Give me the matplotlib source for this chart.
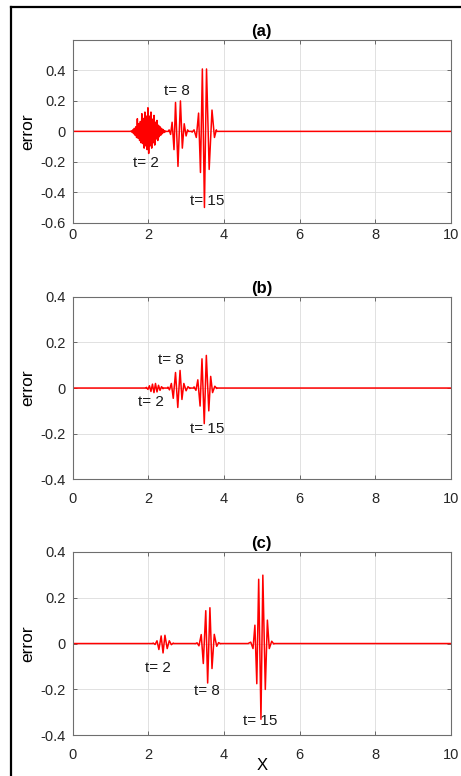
import numpy as np
import matplotlib.pyplot as plt
from matplotlib.lines import Line2D

# Error wave packets, extrema read per packet (x, error)
# panel (a)
a_t2_x = [1.55, 1.57, 1.59, 1.61, 1.63, 1.65, 1.67, 1.69, 1.71, 1.73, 1.75, 1.77,
          1.79, 1.81, 1.83, 1.85, 1.87, 1.89, 1.91, 1.93, 1.95, 1.97, 1.99, 2.01,
          2.03, 2.05, 2.07, 2.09, 2.11, 2.13, 2.15, 2.17, 2.19, 2.21, 2.23, 2.25,
          2.27, 2.29, 2.31, 2.33, 2.35, 2.37, 2.39, 2.41, 2.43, 2.45]
a_t2_y = [0.003, -0.006, 0.01, -0.015, 0.02, -0.025, 0.03, -0.04, 0.083, -0.045, 0.05, -0.06,
          0.065, -0.075, 0.116, -0.08, 0.085, -0.11, 0.127, -0.095, 0.10, -0.12, 0.155, -0.145,
          0.10, -0.095, 0.127, -0.11, 0.08, -0.075, 0.105, -0.09, 0.06, -0.05, 0.072, -0.06,
          0.04, -0.035, 0.03, -0.025, 0.02, -0.015, 0.012, -0.008, 0.005, -0.003]
a_t8_x = [2.55, 2.59, 2.63, 2.68, 2.72, 2.785, 2.85, 2.90, 2.95, 3.00, 3.04]
a_t8_y = [0.01, -0.02, 0.06, -0.12, 0.19, -0.23, 0.20, -0.11, 0.05, -0.03, 0.01]
a_t15_x = [3.16, 3.21, 3.27, 3.33, 3.38, 3.43, 3.485, 3.54, 3.61, 3.685, 3.75, 3.80]
a_t15_y = [-0.005, 0.01, -0.04, 0.12, -0.27, 0.41, -0.50, 0.41, -0.25, 0.14, -0.04, 0.01]

# panel (b)
b_t2_x = [1.95, 1.99, 2.03, 2.07, 2.11, 2.15, 2.19, 2.23, 2.27, 2.31, 2.35, 2.39]
b_t2_y = [0.003, -0.006, 0.01, -0.015, 0.017, -0.02, 0.02, -0.017, 0.012, -0.01, 0.006, -0.003]
b_t8_x = [2.52, 2.56, 2.61, 2.66, 2.72, 2.78, 2.84, 2.89, 2.94, 3.00, 3.05, 3.10]
b_t8_y = [0.004, -0.008, 0.02, -0.045, 0.068, -0.085, 0.077, -0.05, 0.02, -0.012, 0.006, -0.002]
b_t15_x = [3.21, 3.26, 3.31, 3.37, 3.42, 3.48, 3.535, 3.60, 3.65, 3.70, 3.76, 3.81]
b_t15_y = [0.005, -0.01, 0.036, -0.079, 0.128, -0.156, 0.143, -0.10, 0.051, -0.02, 0.008, -0.002]

# panel (c)
c_t2_x = [2.13, 2.18, 2.23, 2.28, 2.34, 2.39, 2.44, 2.50, 2.555, 2.61, 2.66]
c_t2_y = [0.002, -0.004, 0.012, -0.026, 0.033, -0.041, 0.036, -0.022, 0.012, -0.005, 0.002]
c_t8_x = [3.24, 3.29, 3.34, 3.40, 3.455, 3.52, 3.57, 3.63, 3.685, 3.745, 3.81, 3.86, 3.91]
c_t8_y = [-0.001, 0.003, -0.01, 0.039, -0.087, 0.143, -0.172, 0.156, -0.109, 0.04, -0.012, 0.004, -0.001]
c_t15_x = [4.66, 4.71, 4.77, 4.82, 4.87, 4.92, 4.98, 5.03, 5.095, 5.15, 5.20, 5.265, 5.32]
c_t15_y = [0.002, 0.006, -0.022, 0.08, -0.175, 0.28, -0.33, 0.298, -0.2, 0.102, -0.022, 0.01, -0.002]

panel_titles = ['(a)', '(b)', '(c)']
time_labels = ['t= 2', 't= 8', 't= 15']
label_pos = [
    [(1.94, -0.21), (2.75, 0.264), (3.56, -0.46)],
    [(2.06, -0.061), (2.60, 0.121), (3.56, -0.181)],
    [(2.26, -0.105), (3.54, -0.208), (4.95, -0.339)],
]
packets = [
    [(a_t2_x, a_t2_y), (a_t8_x, a_t8_y), (a_t15_x, a_t15_y)],
    [(b_t2_x, b_t2_y), (b_t8_x, b_t8_y), (b_t15_x, b_t15_y)],
    [(c_t2_x, c_t2_y), (c_t8_x, c_t8_y), (c_t15_x, c_t15_y)],
]
ylims = [(-0.6, 0.6), (-0.4, 0.4), (-0.4, 0.4)]
yticks = [[-0.6, -0.4, -0.2, 0, 0.2, 0.4], [-0.4, -0.2, 0, 0.2, 0.4], [-0.4, -0.2, 0, 0.2, 0.4]]
xticks = [0, 2, 4, 6, 8, 10]
xtick_pad = [4, 9, 9]

# axes boxes [left, bottom, width, height] in figure fraction
boxes = [[0.1577, 0.713, 0.82, 0.2354],
         [0.1577, 0.3823, 0.82, 0.2353],
         [0.1577, 0.0524, 0.82, 0.2366]]

fig = plt.figure(figsize=(4.61, 7.76), dpi=100)
plt.rcParams['font.family'] = ['Liberation Sans', 'DejaVu Sans']

for i in range(3):
    ax = fig.add_axes(boxes[i])
    # one curve along the whole domain: zero outside the packets
    xs = [0.0]
    ys = [0.0]
    for px, py in packets[i]:
        xs += [px[0] - 0.01] + list(px) + [px[-1] + 0.01]
        ys += [0.0] + list(py) + [0.0]
    xs.append(10.0)
    ys.append(0.0)
    ax.plot(xs, ys, color='#ff0000', lw=1.1)

    for lab, (tx, ty) in zip(time_labels, label_pos[i]):
        ax.text(tx, ty, lab, ha='center', va='center', fontsize=11, color='#1a1a1a')

    ax.set_xlim(0, 10)
    ax.set_ylim(*ylims[i])
    ax.set_xticks(xticks)
    ax.set_yticks(yticks[i])
    ax.set_yticklabels(['0' if v == 0 else f'{v:g}' for v in yticks[i]])
    ax.grid(True, color='#dcdcdc', lw=0.6)
    ax.set_axisbelow(True)
    ax.tick_params(direction='in', length=3, width=0.6, labelsize=10.5, pad=5,
                   colors='#555555', labelcolor='#262626', top=True, right=True)
    ax.tick_params(axis='x', pad=xtick_pad[i])
    for s in ax.spines.values():
        s.set_color('#6e6e6e')
        s.set_linewidth(0.8)
    ax.set_title(panel_titles[i], fontsize=12, fontweight='bold', pad=3)
    ax.set_ylabel('error', fontsize=12.5, labelpad=4)
    if i == 2:
        ax.set_xlabel('X', fontsize=12, labelpad=-3)

# outer frame, left and top edges
fig.add_artist(Line2D([11 / 461, 11 / 461], [0, 1 - 7 / 776], color='black', lw=1.6,
                      transform=fig.transFigure))
fig.add_artist(Line2D([11 / 461, 1], [1 - 7 / 776, 1 - 7 / 776], color='black', lw=1.6,
                      transform=fig.transFigure))

fig.savefig('out.png', dpi=100)
